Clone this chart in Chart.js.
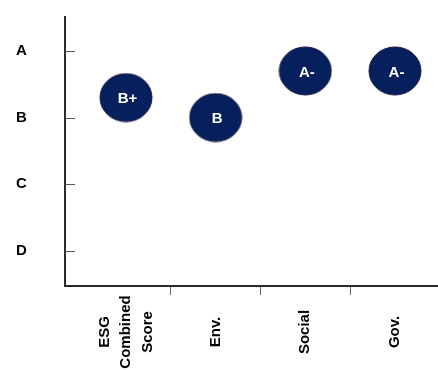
<!DOCTYPE html>
<html>
<head>
<meta charset="utf-8">
<script src="https://cdn.jsdelivr.net/npm/chart.js@4/dist/chart.umd.min.js"></script>
<style>
  html, body { margin: 0; padding: 0; background: #fff; }
  #wrap { width: 438px; height: 370px; position: relative; }
</style>
</head>
<body>
<div id="wrap"><canvas id="c"></canvas></div>
<script>
// Rating categories (multi-line label for the first one)
const categories = [['ESG', 'Combined', 'Score'], 'Env.', 'Social', 'Gov.'];
// Letter grade for each category
const grades = ['B+', 'B', 'A-', 'A-'];
// Letter scale on the vertical axis, lowest first
const gradeLetters = ['D', 'C', 'B', 'A'];
// Notch applied by a +/- modifier
const modifierStep = { '+': 0.3, '-': -0.3, '': 0 };

function gradeValue(g) {
  const base = gradeLetters.indexOf(g[0]) + 1;
  return base + modifierStep[g.slice(1)];
}

const points = grades.map((g, i) => ({ x: i + 1, y: gradeValue(g) }));

const FONT = "'Liberation Sans', Arial, sans-serif";
const NAVY = '#06205e';

// Elliptical marker used as the point style
function makeBadge() {
  const cv = document.createElement('canvas');
  cv.width = 54; cv.height = 50;
  const g = cv.getContext('2d');
  g.beginPath();
  g.ellipse(27, 25, 26, 24, 0, 0, Math.PI * 2);
  g.fillStyle = NAVY;
  g.fill();
  g.lineWidth = 1;
  g.strokeStyle = '#1b1a42';
  g.stroke();
  return cv;
}
const badge = makeBadge();

// Grade text inside each marker
const badgeText = {
  id: 'badgeText',
  afterDatasetsDraw(chart) {
    const ctx = chart.ctx;
    const meta = chart.getDatasetMeta(0);
    ctx.save();
    ctx.font = 'bold 15px ' + FONT;
    ctx.fillStyle = '#ffffff';
    ctx.textAlign = 'center';
    ctx.textBaseline = 'middle';
    meta.data.forEach((el, i) => {
      ctx.fillText(grades[i], el.x + 1.5, el.y + 1.5);
    });
    ctx.restore();
  }
};

// Short tick marks pointing into the plot on the grade axis,
// and vertical category names under the horizontal axis
const axisDecor = {
  id: 'axisDecor',
  afterDraw(chart) {
    const ctx = chart.ctx;
    const ys = chart.scales.y;
    const xs = chart.scales.x;
    const area = chart.chartArea;
    ctx.save();
    ctx.strokeStyle = '#555';
    ctx.lineWidth = 1;
    gradeLetters.forEach((_, i) => {
      const py = Math.round(ys.getPixelForValue(i + 1)) + 0.5;
      ctx.beginPath();
      ctx.moveTo(area.left, py);
      ctx.lineTo(area.left + 10, py);
      ctx.stroke();
    });

    ctx.font = 'bold 15px ' + FONT;
    ctx.fillStyle = '#000';
    ctx.textAlign = 'center';
    ctx.textBaseline = 'middle';
    const lineGap = 21.5;
    const cy = area.bottom + 46;
    categories.forEach((lab, i) => {
      const lines = Array.isArray(lab) ? lab : [lab];
      const cx = xs.getPixelForValue(i + 1);
      lines.forEach((t, k) => {
        const lx = cx + (k - (lines.length - 1) / 2) * lineGap;
        ctx.save();
        ctx.translate(lx, cy);
        ctx.rotate(-Math.PI / 2);
        ctx.fillText(t, 0, 0);
        ctx.restore();
      });
    });
    ctx.restore();
  }
};

new Chart(document.getElementById('c'), {
  type: 'scatter',
  data: {
    datasets: [{
      data: points,
      pointStyle: badge,
      radius: 26,
      hoverRadius: 26,
      showLine: false,
      clip: false
    }]
  },
  options: {
    responsive: true,
    maintainAspectRatio: false,
    animation: false,
    events: [],
    layout: { autoPadding: false, padding: { top: 17, left: 16, right: 0, bottom: 0 } },
    plugins: {
      legend: { display: false },
      tooltip: { enabled: false }
    },
    scales: {
      x: {
        type: 'linear',
        min: 0.32,
        max: 4.48,
        afterBuildTicks(scale) {
          scale.ticks = [1.5, 2.5, 3.5].map(v => ({ value: v }));
        },
        afterFit(scale) { scale.height = 84; },
        ticks: { display: false },
        grid: {
          drawOnChartArea: false,
          drawTicks: true,
          tickLength: 9,
          tickColor: '#666',
          tickWidth: 1
        },
        border: { display: true, color: '#2a2a2a', width: 2 }
      },
      y: {
        type: 'linear',
        min: 0.47,
        max: 4.51,
        afterBuildTicks(scale) {
          scale.ticks = gradeLetters.map((_, i) => ({ value: i + 1 }));
        },
        afterFit(scale) { scale.width = 49; },
        ticks: {
          padding: 0,
          crossAlign: 'far',
          color: '#000',
          font: { family: FONT, size: 15, weight: 'bold' },
          callback: v => gradeLetters[v - 1] || ''
        },
        grid: { drawOnChartArea: false, drawTicks: false },
        border: { display: true, color: '#2a2a2a', width: 2 }
      }
    }
  },
  plugins: [badgeText, axisDecor]
});
</script>
</body>
</html>
